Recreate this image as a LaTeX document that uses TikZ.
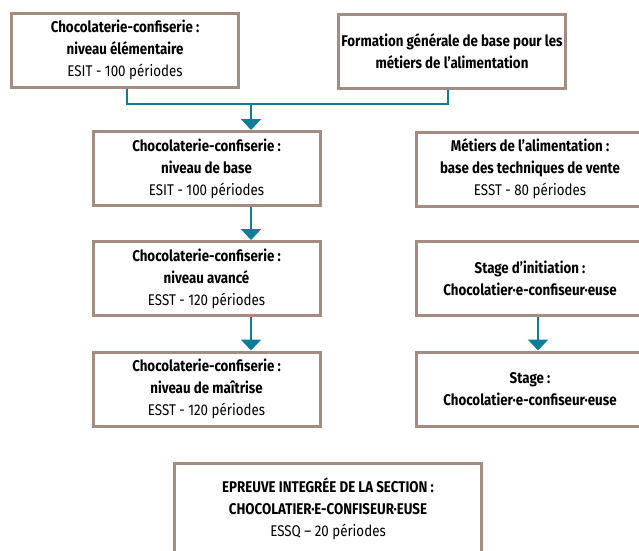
\documentclass[tikz,border=0pt]{standalone}
\usepackage{fontspec}
\setmainfont{Fira Sans}[FakeStretch=0.86]
\usepackage{tikz}
\usetikzlibrary{positioning,arrows.meta}
\definecolor{boxline}{RGB}{163,140,130}
\definecolor{flowline}{RGB}{14,125,152}
\tikzset{
  course/.style={draw=boxline,line width=3pt,fill=white,minimum width=227pt,
    minimum height=74pt,align=center,inner sep=2pt,
    font=\fontsize{15.5}{22}\selectfont},
  link/.style={draw=flowline,line width=2.5pt},
  flow/.style={link,-{Triangle[width=20pt,length=11pt]}}
}

\begin{document}
\begin{tikzpicture}[x=1pt,y=-1pt]
  \useasboundingbox (0,0) rectangle (639,550);
  \clip (0,0) rectangle (639,550);
  % first year
  \node[course] (elem) at (125,50) {\textbf{Chocolaterie-confiserie :}\\ \textbf{niveau élémentaire}\\ ESIT - 100 périodes};
  \node[course] (fgb) at (452,51) {\textbf{Formation générale de base pour les}\\ \textbf{métiers de l’alimentation}};
  % left column
  \node[course] (base) at (206.5,168.5) {\textbf{Chocolaterie-confiserie :}\\ \textbf{niveau de base}\\ ESIT - 100 périodes};
  \node[course] (avance) at (206.5,278.5) {\textbf{Chocolaterie-confiserie :}\\ \textbf{niveau avancé}\\ ESST - 120 périodes};
  \node[course] (maitrise) at (206.5,389) {\textbf{Chocolaterie-confiserie :}\\ \textbf{niveau de maîtrise}\\ ESST - 120 périodes};
  % right column
  \node[course] (vente) at (530,169) {\textbf{Métiers de l’alimentation :}\\ \textbf{base des techniques de vente}\\ ESST - 80 périodes};
  \node[course] (init) at (530,278.5) {\textbf{Stage d’initiation :}\\ \textbf{Chocolatier·e-confiseur·euse}};
  \node[course] (stage) at (530,389) {\textbf{Stage :}\\ \textbf{Chocolatier·e-confiseur·euse}};
  % final test
  \node[course,minimum width=307pt,minimum height=92pt] (epreuve) at (328,509) {\textbf{EPREUVE INTEGRÉE DE LA SECTION :}\\ \textbf{CHOCOLATIER·E-CONFISEUR·EUSE}\\ ESSQ – 20 périodes};
  % connectors
  \coordinate (join) at (251,104);
  \draw[link] ([xshift=2pt]elem.south) |- (join) -| ([xshift=-4pt]fgb.south);
  \draw[flow] (join) -- (join |- base.north);
  \draw[flow] (join |- base.south) -- (join |- avance.north);
  \draw[flow] (join |- avance.south) -- (join |- maitrise.north);
  \draw[flow] ([xshift=8pt]init.south) -- ([xshift=8pt]stage.north);
\end{tikzpicture}
\end{document}
